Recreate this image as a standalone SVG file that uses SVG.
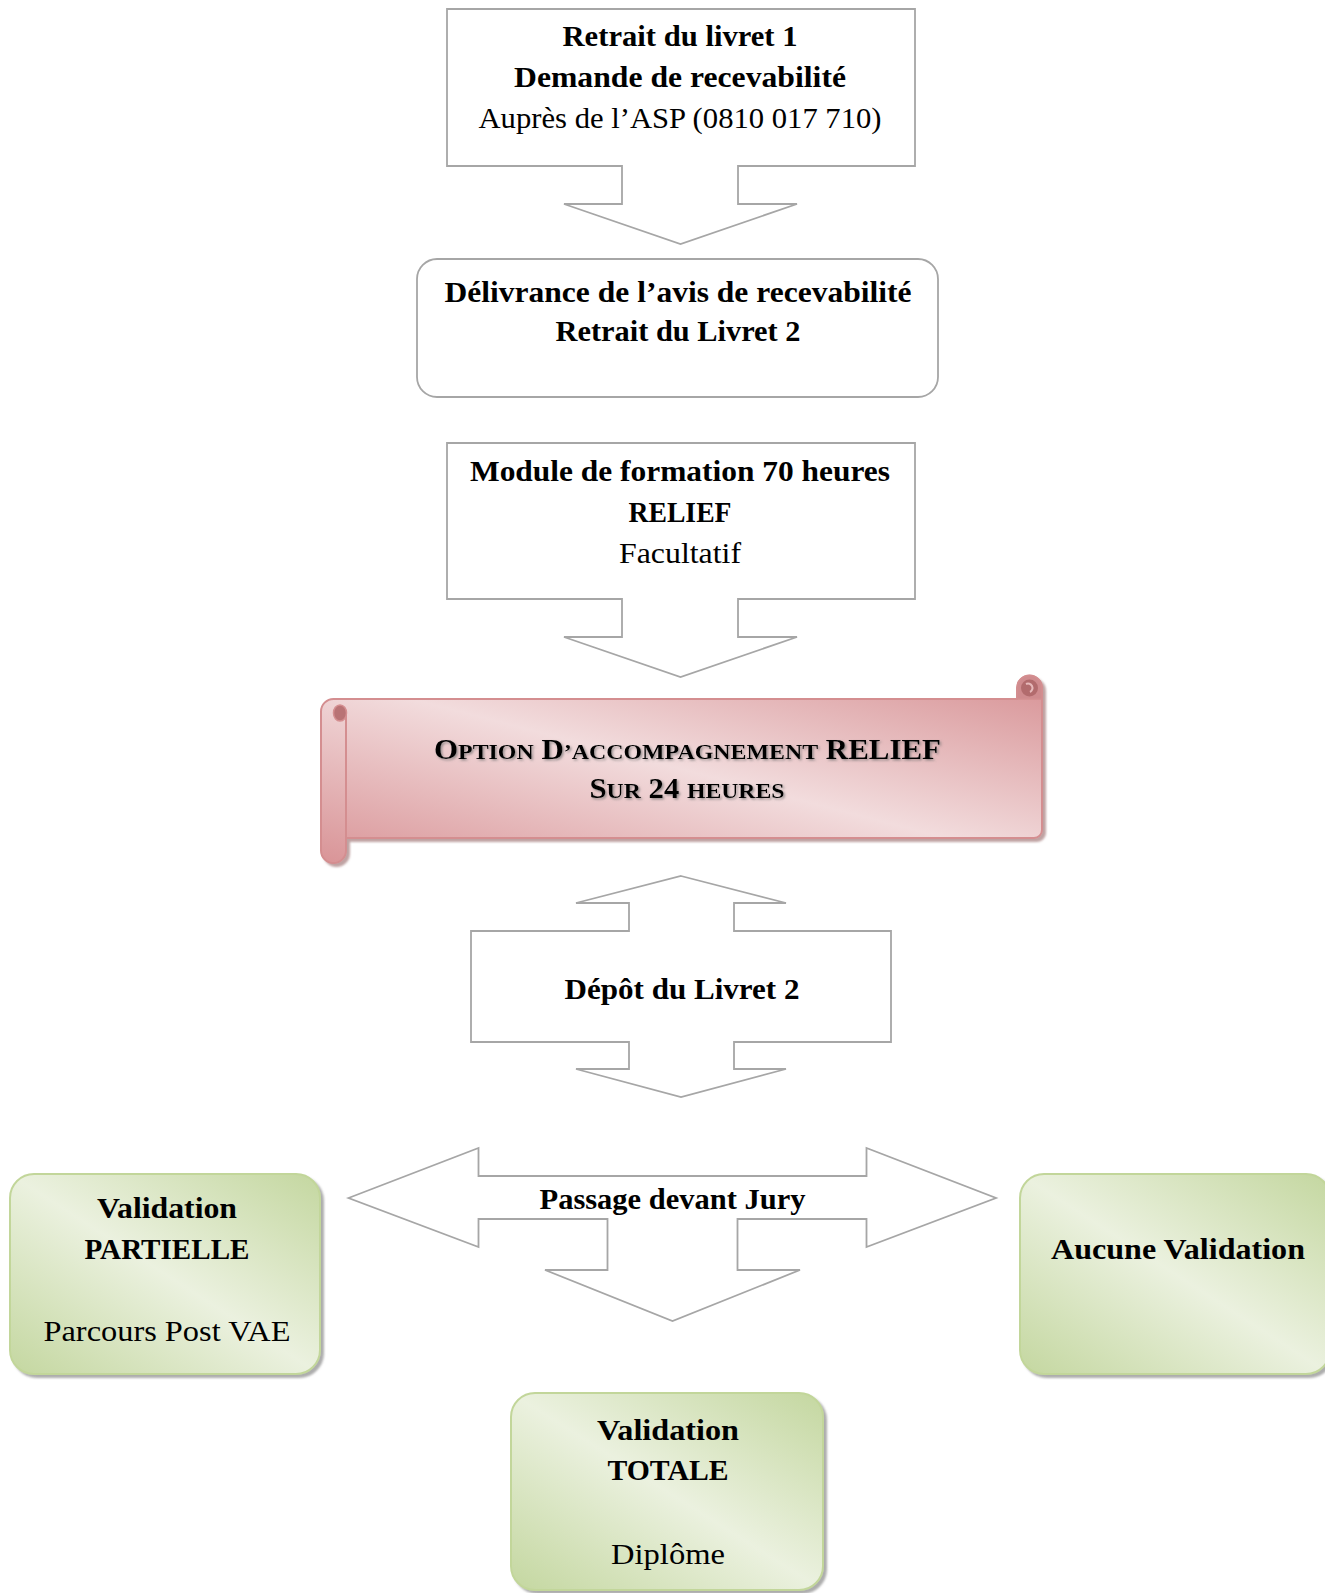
<svg xmlns="http://www.w3.org/2000/svg" width="1325" height="1593" viewBox="0 0 1325 1593">
<style>
.t{font-family:"Liberation Serif","Times New Roman",serif;font-size:28.5px;fill:#000;text-anchor:middle}
.b{font-weight:bold}
.outline{fill:#fff;stroke:#a6a6a6;stroke-width:1.8}
.green{fill:url(#gGreen);stroke:#c2d69a;stroke-width:2;filter:url(#shadow)}
</style>
<defs>
<linearGradient id="gGreen" x1="0" y1="1" x2="1" y2="0">
<stop offset="0" stop-color="#c4d7a0"/>
<stop offset="0.5" stop-color="#ebf1df"/>
<stop offset="1" stop-color="#c4d7a0"/>
</linearGradient>
<linearGradient id="gPink" x1="0" y1="1" x2="1" y2="0">
<stop offset="0" stop-color="#d99497"/>
<stop offset="0.5" stop-color="#f2dcdd"/>
<stop offset="1" stop-color="#d79194"/>
</linearGradient>
<filter id="shadow" x="-5%" y="-5%" width="115%" height="115%">
<feDropShadow dx="3" dy="3" stdDeviation="1" flood-color="#6b6b6b" flood-opacity="0.55"/>
</filter>
<filter id="pshadow" x="-5%" y="-5%" width="115%" height="115%">
<feDropShadow dx="3" dy="3" stdDeviation="1" flood-color="#8a5556" flood-opacity="0.55"/>
</filter>
<filter id="tshadow" x="-5%" y="-20%" width="110%" height="150%">
<feDropShadow dx="1.5" dy="1.5" stdDeviation="0.8" flood-color="#707070" flood-opacity="0.7"/>
</filter>
</defs>

<g id="connectors"></g>

<g id="n1">
<path class="outline" d="M447,9 H915 V166 H738 V204 H797 L680.5,244 L564,204 H622 V166 H447 Z"/>
<text class="t b" x="680" y="46" textLength="235" lengthAdjust="spacingAndGlyphs">Retrait du livret 1</text>
<text class="t b" x="680" y="87" textLength="332" lengthAdjust="spacingAndGlyphs">Demande de recevabilité</text>
<text class="t" x="680" y="128" textLength="403" lengthAdjust="spacingAndGlyphs">Auprès de l’ASP (0810 017 710)</text>
</g>

<g id="n2">
<rect class="outline" x="417" y="259" width="521" height="138" rx="20"/>
<text class="t b" x="678" y="302" textLength="467" lengthAdjust="spacingAndGlyphs">Délivrance de l’avis de recevabilité</text>
<text class="t b" x="678" y="341" textLength="245" lengthAdjust="spacingAndGlyphs">Retrait du Livret 2</text>
</g>

<g id="n3">
<path class="outline" d="M447,443 H915 V599 H738 V637 H797 L680.5,677 L564,637 H622 V599 H447 Z"/>
<text class="t b" x="680" y="481" textLength="420" lengthAdjust="spacingAndGlyphs">Module de formation 70 heures</text>
<text class="t b" x="680" y="522" textLength="103" lengthAdjust="spacingAndGlyphs">RELIEF</text>
<text class="t" x="680" y="563" textLength="122" lengthAdjust="spacingAndGlyphs">Facultatif</text>
</g>

<g id="n4">
<g filter="url(#pshadow)">
<path d="M321,711.5 A12.5,12.5 0 0 1 333.5,699 H1017 V688 A12.5,12.5 0 0 1 1042,688 V830 A8,8 0 0 1 1034,838 H346 V850.5 A12.5,12.5 0 0 1 321,850.5 Z" fill="url(#gPink)" stroke="#d48e90" stroke-width="2"/>
</g>
<path d="M346,712 V838" fill="none" stroke="#d48e90" stroke-width="2"/>
<ellipse cx="340" cy="713" rx="6.5" ry="8" fill="#b97375" stroke="#d48e90" stroke-width="1.5"/>
<path d="M1017,699 V688 A12.5,12.5 0 0 1 1042,688 V699 Z" fill="#cf8b8e" stroke="#d48e90" stroke-width="1.5"/>
<circle cx="1029.5" cy="688" r="8.5" fill="#b26b6d"/>
<path d="M1026,684 A4,4 0 1 1 1030,692" fill="none" stroke="#e6b9ba" stroke-width="2"/>
<text class="t b" x="687.5" y="759" textLength="507" lengthAdjust="spacingAndGlyphs" filter="url(#tshadow)"><tspan>O</tspan><tspan font-size="22">PTION</tspan> <tspan>D</tspan><tspan font-size="22">’ACCOMPAGNEMENT</tspan> <tspan>RELIEF</tspan></text>
<text class="t b" x="687" y="798" textLength="195" lengthAdjust="spacingAndGlyphs" filter="url(#tshadow)"><tspan>S</tspan><tspan font-size="22">UR</tspan> <tspan>24</tspan> <tspan font-size="22">HEURES</tspan></text>
</g>

<g id="n5">
<path class="outline" d="M681,876 L786,903 H734 V931 H891 V1042 H734 V1069 H786 L681,1097 L576,1069 H629 V1042 H471 V931 H629 V903 H576 Z"/>
<text class="t b" x="682" y="999" textLength="235" lengthAdjust="spacingAndGlyphs">Dépôt du Livret 2</text>
</g>

<g id="n6">
<path class="outline" d="M348.5,1198 L478.5,1148 V1176 H866.5 V1148 L996,1198 L866.5,1247 V1219 H737.5 V1270 H800 L672.5,1321 L545,1270 H607.5 V1219 H478.5 V1247 Z"/>
<text class="t b" x="672.5" y="1209" textLength="266" lengthAdjust="spacingAndGlyphs">Passage devant Jury</text>
</g>

<g id="n7">
<rect class="green" x="10" y="1174" width="310" height="200" rx="24"/>
<text class="t b" x="167" y="1218" textLength="140" lengthAdjust="spacingAndGlyphs">Validation</text>
<text class="t b" x="167" y="1259" textLength="165" lengthAdjust="spacingAndGlyphs">PARTIELLE</text>
<text class="t" x="167" y="1341" textLength="247" lengthAdjust="spacingAndGlyphs">Parcours Post VAE</text>
</g>

<g id="n8">
<rect class="green" x="1020" y="1174" width="310" height="200" rx="24"/>
<text class="t b" x="1178" y="1259" textLength="254" lengthAdjust="spacingAndGlyphs">Aucune Validation</text>
</g>

<g id="n9">
<rect class="green" x="511" y="1393" width="312" height="197" rx="24"/>
<text class="t b" x="668" y="1439.5" textLength="142" lengthAdjust="spacingAndGlyphs">Validation</text>
<text class="t b" x="668" y="1480" textLength="121" lengthAdjust="spacingAndGlyphs">TOTALE</text>
<text class="t" x="668" y="1563.5" textLength="114" lengthAdjust="spacingAndGlyphs">Diplôme</text>
</g>
</svg>
